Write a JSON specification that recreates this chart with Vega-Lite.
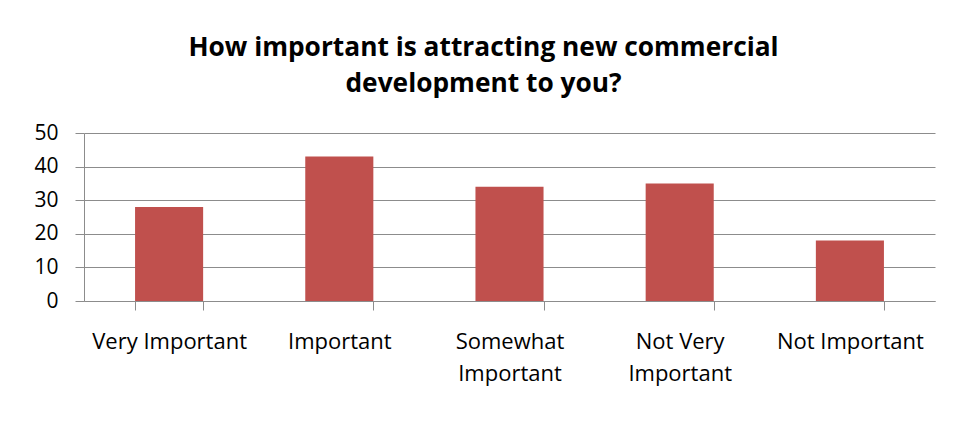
{
  "$schema": "https://vega.github.io/schema/vega-lite/v6.json",
  "autosize": {"type": "none"},
  "width": 851,
  "height": 168,
  "padding": {"left": 84, "top": 133, "right": 28, "bottom": 120},
  "background": "white",
  "title": {
    "text": ["How important is attracting new commercial", "development to you?"],
    "font": "Open Sans",
    "fontSize": 26.3,
    "fontWeight": "bold",
    "color": "black",
    "lineHeight": 36,
    "anchor": "middle",
    "dx": -26,
    "offset": 25
  },
  "data": {
    "values": [
      {"category": "Very Important", "value": 28},
      {"category": "Important", "value": 43},
      {"category": "Somewhat Important", "value": 34},
      {"category": "Not Very Important", "value": 35},
      {"category": "Not Important", "value": 18}
    ]
  },
  "mark": {"type": "bar", "color": "#c0504d"},
  "encoding": {
    "x": {
      "field": "category",
      "type": "nominal",
      "sort": null,
      "scale": {"paddingInner": 0.6, "paddingOuter": 0.3},
      "axis": {
        "title": null,
        "labelAngle": 0,
        "labelFont": "Open Sans",
        "labelFontSize": 22,
        "labelColor": "black",
        "labelPadding": 21,
        "labelLineHeight": 32,
        "labelBaseline": "top",
        "labelLimit": 300,
        "labelExpr": "datum.label == 'Somewhat Important' ? ['Somewhat', 'Important'] : datum.label == 'Not Very Important' ? ['Not Very', 'Important'] : datum.label",
        "tickBand": "extent",
        "tickSize": 9,
        "tickColor": "#8c8c8c",
        "domainColor": "#8c8c8c",
        "grid": false
      }
    },
    "y": {
      "field": "value",
      "type": "quantitative",
      "scale": {"domain": [0, 50], "nice": false},
      "axis": {
        "title": null,
        "values": [0, 10, 20, 30, 40, 50],
        "labelFont": "Open Sans",
        "labelFontSize": 21,
        "labelColor": "black",
        "labelPadding": 17,
        "tickSize": 9,
        "tickColor": "#8c8c8c",
        "domainColor": "#8c8c8c",
        "gridColor": "#8c8c8c",
        "grid": true
      }
    }
  },
  "config": {"view": {"stroke": null}}
}
